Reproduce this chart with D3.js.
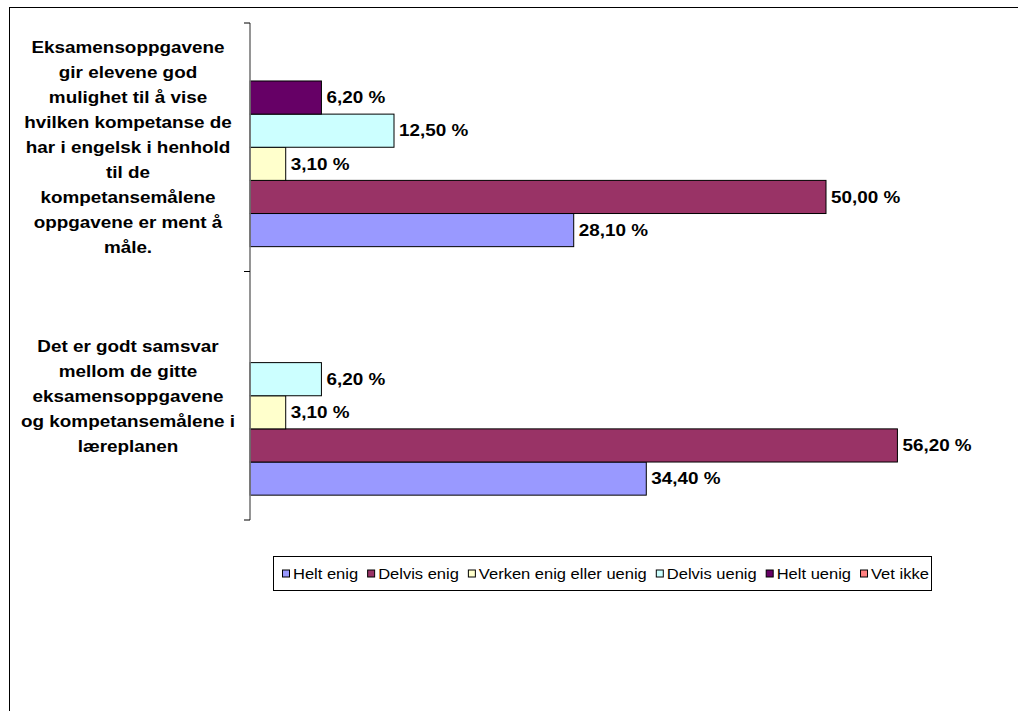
<!DOCTYPE html>
<html>
<head>
<meta charset="utf-8">
<script src="https://cdn.jsdelivr.net/npm/d3@7"></script>
<style>
  html, body { margin: 0; padding: 0; background: #fff; }
  svg { display: block; font-family: "Liberation Sans", Arial, sans-serif; }
</style>
</head>
<body>
<svg id="chart" width="1018" height="711"></svg>
<script>
// ---- data ----
const categories = [
  "Eksamensoppgavene gir elevene god mulighet til å vise hvilken kompetanse de har i engelsk i henhold til de kompetansemålene oppgavene er ment å måle.",
  "Det er godt samsvar mellom de gitte eksamensoppgavene og kompetansemålene i læreplanen"
];
const categoryLines = [
  ["Eksamensoppgavene", "gir elevene god", "mulighet til å vise", "hvilken kompetanse de", "har i engelsk i henhold", "til de", "kompetansemålene", "oppgavene er ment å", "måle."],
  ["Det er godt samsvar", "mellom de gitte", "eksamensoppgavene", "og kompetansemålene i", "læreplanen"]
];
const seriesNames = ["Helt enig", "Delvis enig", "Verken enig eller uenig", "Delvis uenig", "Helt uenig", "Vet ikke"];
const seriesColors = ["#9999FF", "#993366", "#FFFFCC", "#CCFFFF", "#660066", "#FF8080"];
const helt_enig    = [28.1, 34.4];
const delvis_enig  = [50.0, 56.2];
const verken       = [3.1, 3.1];
const delvis_uenig = [12.5, 6.2];
const helt_uenig   = [6.2, 0];
const vet_ikke     = [0, 0];
const seriesValues = [helt_enig, delvis_enig, verken, delvis_uenig, helt_uenig, vet_ikke];
const xDomain = [0, 60];

// ---- layout ----
const svg = d3.select("#chart");
const stretch = 1.18;
const plot = { left: 250, top: 23, bottom: 520 };

const x = d3.scaleLinear().domain(xDomain).range([plot.left, plot.left + 691.2]);
const y = d3.scaleBand().domain(d3.range(categories.length))
  .range([plot.top, plot.bottom]).paddingInner(0.2).paddingOuter(0.1);
// series order: Helt enig at the bottom of the group
const yInner = d3.scaleBand().domain(d3.range(seriesNames.length).reverse())
  .range([0, y.bandwidth()]);

const locale = d3.formatLocale({ decimal: ",", thousands: " ", grouping: [3], currency: ["", ""] });
const fmt = v => locale.format(".2f")(v) + " %";

// outer frame (extends beyond the window on right/bottom)
svg.append("rect").attr("x", 9.5).attr("y", 7.5).attr("width", 1100).attr("height", 800)
  .attr("fill", "none").attr("stroke", "#000").attr("stroke-width", 1);

// bars
const rows = [];
categories.forEach((c, ci) => {
  seriesNames.forEach((s, si) => {
    rows.push({ ci, si, v: seriesValues[si][ci] });
  });
});
const visible = rows.filter(d => d.v > 0);

svg.append("g").selectAll("rect").data(visible).join("rect")
  .attr("x", x(0))
  .attr("y", d => y(d.ci) + yInner(d.si))
  .attr("width", d => x(d.v) - x(0))
  .attr("height", yInner.bandwidth())
  .attr("fill", d => seriesColors[d.si])
  .attr("stroke", "#000").attr("stroke-width", 1);

// data labels
svg.append("g").selectAll("text").data(visible).join("text")
  .attr("transform", d => `translate(${x(d.v) + 5},${y(d.ci) + yInner(d.si) + yInner.bandwidth() / 2}) scale(${stretch},1)`)
  .attr("dy", "0.36em")
  .attr("font-size", 16).attr("font-weight", "bold").attr("fill", "#000")
  .text(d => fmt(d.v));

// category axis
const axisG = svg.append("g");
axisG.append("line").attr("x1", plot.left).attr("x2", plot.left)
  .attr("y1", plot.top).attr("y2", plot.bottom)
  .attr("stroke", "#7a7a7a").attr("stroke-width", 1.6);
const tickYs = [plot.top, ...d3.range(1, categories.length).map(i => (y(i - 1) + y.bandwidth() + y(i)) / 2), plot.bottom];
axisG.selectAll("line.tick").data(tickYs).join("line").attr("class", "tick")
  .attr("x1", plot.left - 6).attr("x2", plot.left).attr("y1", d => d).attr("y2", d => d)
  .attr("stroke", "#000").attr("stroke-width", 1);

// category labels
const lineH = 25;
categoryLines.forEach((lines, ci) => {
  const cy = y(ci) + y.bandwidth() / 2;
  const y0 = cy - (lines.length - 1) * lineH / 2;
  svg.append("g").selectAll("text").data(lines).join("text")
    .attr("transform", (d, i) => `translate(128,${y0 + i * lineH}) scale(${stretch},1)`)
    .attr("dy", "0.36em").attr("text-anchor", "middle")
    .attr("font-size", 16).attr("font-weight", "bold").attr("fill", "#000")
    .text(d => d);
});

// legend
const lg = { x: 273.5, y: 556.5, w: 658, h: 34 };
svg.append("defs").append("clipPath").attr("id", "lgclip")
  .append("rect").attr("x", lg.x).attr("y", lg.y).attr("width", lg.w).attr("height", lg.h);
svg.append("rect").attr("x", lg.x).attr("y", lg.y).attr("width", lg.w).attr("height", lg.h)
  .attr("fill", "#fff").attr("stroke", "#000").attr("stroke-width", 1);
const legendG = svg.append("g").attr("clip-path", "url(#lgclip)");
let cx = 282;
const lcy = lg.y + lg.h / 2;
seriesNames.forEach((name, i) => {
  legendG.append("rect").attr("x", cx + 0.5).attr("y", lcy - 3.5).attr("width", 7).attr("height", 7)
    .attr("fill", seriesColors[i]).attr("stroke", "#000").attr("stroke-width", 1);
  const t = legendG.append("text")
    .attr("transform", `translate(${cx + 11},${lcy}) scale(${stretch},1)`)
    .attr("dy", "0.36em").attr("font-size", 14).attr("fill", "#000").text(name);
  const w = t.node().getComputedTextLength() * stretch;
  cx += 11 + w + 9;
});
</script>
</body>
</html>
